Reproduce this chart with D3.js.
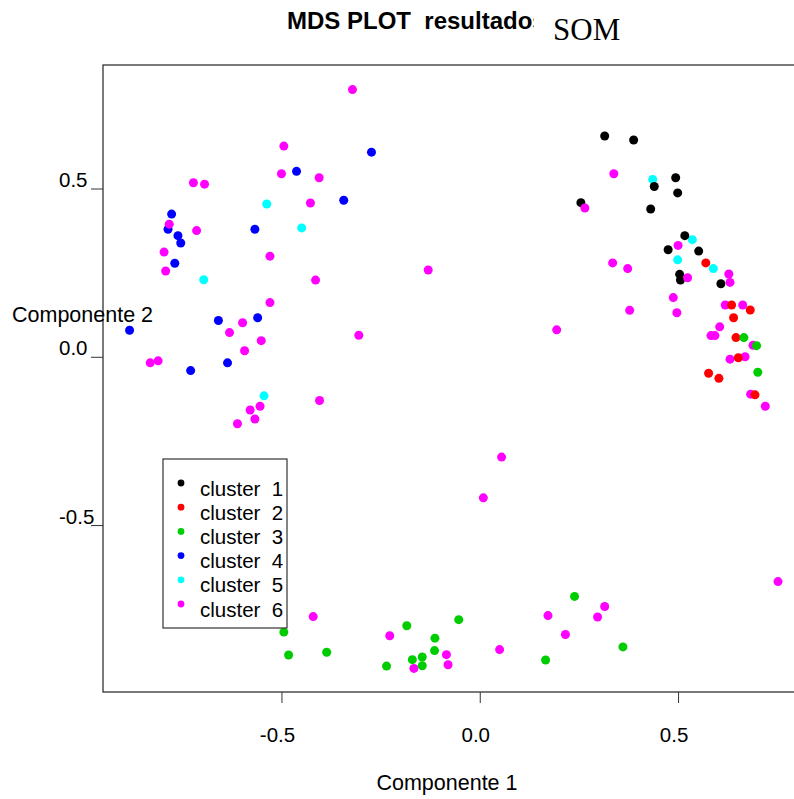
<!DOCTYPE html>
<html>
<head>
<meta charset="utf-8">
<script src="https://cdn.jsdelivr.net/npm/d3@7"></script>
<style>
  body { margin: 0; background: #fff; }
  svg { display: block; font-family: "Liberation Sans", Arial, sans-serif; }
  svg text { white-space: pre; }
</style>
</head>
<body>
<svg></svg>
<script>
// MDS coordinates per cluster
const cluster1 = [[0.315,0.656],[0.388,0.644],[0.494,0.532],[0.440,0.506],[0.499,0.487],[0.255,0.458],
  [0.431,0.439],[0.517,0.360],[0.475,0.318],[0.552,0.314],[0.504,0.245],[0.506,0.228],[0.608,0.217]];
const cluster2 = [[0.570,0.279],[0.635,0.154],[0.682,0.139],[0.640,0.116],[0.646,0.057],[0.652,-0.003],
  [0.577,-0.049],[0.603,-0.064],[0.694,-0.113]];
const cluster3 = [[0.666,0.057],[0.698,0.033],[0.701,-0.046],[-0.494,-0.818],[-0.482,-0.886],[-0.386,-0.878],
  [-0.184,-0.799],[-0.113,-0.836],[-0.114,-0.873],[-0.145,-0.892],[-0.170,-0.900],[-0.235,-0.919],
  [-0.145,-0.918],[0.239,-0.712],[-0.053,-0.781],[0.361,-0.862],[0.166,-0.901]];
const cluster4 = [[-0.273,0.608],[-0.462,0.551],[-0.343,0.465],[-0.777,0.424],[-0.786,0.379],[-0.567,0.379],
  [-0.761,0.360],[-0.754,0.338],[-0.769,0.278],[-0.659,0.108],[-0.560,0.116],[-0.883,0.079],
  [-0.636,-0.018],[-0.729,-0.041]];
const cluster5 = [[-0.537,0.454],[-0.449,0.383],[-0.696,0.229],[-0.544,-0.116],[0.436,0.527],[0.536,0.348],
  [0.499,0.288],[0.589,0.262]];
const cluster6 = [[-0.321,0.794],[-0.494,0.626],[-0.500,0.544],[-0.405,0.532],[-0.722,0.517],[-0.694,0.513],
  [-0.427,0.457],[-0.783,0.394],[-0.714,0.375],[-0.796,0.311],[-0.529,0.299],[-0.792,0.255],
  [-0.414,0.228],[-0.529,0.161],[-0.598,0.101],[-0.631,0.072],[-0.551,0.048],[-0.305,0.064],
  [-0.593,0.018],[-0.831,-0.018],[-0.811,-0.012],[-0.404,-0.130],[-0.554,-0.147],[-0.579,-0.158],
  [-0.567,-0.185],[-0.611,-0.199],
  [0.338,0.544],[0.265,0.442],[0.500,0.331],[0.335,0.279],[0.373,0.262],[-0.130,0.258],[0.524,0.235],
  [0.628,0.246],[0.631,0.221],[0.488,0.176],[0.619,0.154],[0.663,0.154],[0.378,0.138],[0.497,0.131],
  [0.605,0.089],[0.194,0.080],[0.583,0.063],[0.593,0.063],[0.689,0.034],[0.631,-0.007],[0.669,0.000],
  [0.683,-0.111],[0.720,-0.147],[0.055,-0.298],
  [-0.420,-0.772],[-0.227,-0.829],[-0.166,-0.926],[-0.084,-0.885],[-0.080,-0.915],[0.009,-0.419],
  [0.752,-0.668],[0.315,-0.742],[0.172,-0.769],[0.297,-0.773],[0.216,-0.825],[0.050,-0.870]];

const clusterNames = ['cluster  1', 'cluster  2', 'cluster  3', 'cluster  4', 'cluster  5', 'cluster  6'];
const clusterColors = ['#000000', '#ff0000', '#00cd00', '#0000ff', '#00ffff', '#ff00ff'];
const tickValues = [-0.5, 0, 0.5];

const size = {w: 794, h: 799};
const plot = {l: 103, t: 65, r: 801, b: 692};
const svg = d3.select('svg').attr('width', size.w).attr('height', size.h);

const x = d3.scaleLinear().domain([-0.95, 0.81]).range([plot.l, plot.r]);
const y = d3.scaleLinear().domain([-0.996, 0.867]).range([plot.b, plot.t]);

// title: the last letter is half hidden under "SOM"
svg.append('clipPath').attr('id', 'titleClip')
  .append('rect').attr('x', 0).attr('y', 0).attr('width', 534).attr('height', 60);
svg.append('text')
  .attr('x', 287).attr('y', 29)
  .attr('clip-path', 'url(#titleClip)')
  .style('font-weight', 'bold').style('font-size', '24px')
  .text('MDS PLOT  resultados');
svg.append('text')
  .attr('x', 553).attr('y', 40)
  .style('font-family', '"Liberation Serif", "Times New Roman", serif')
  .style('font-size', '31px')
  .text('SOM');

// points, drawn cluster by cluster
const allClusters = [cluster1, cluster2, cluster3, cluster4, cluster5, cluster6];
const drawOrder = [4, 3, 0, 5, 1, 2];
const pointsG = svg.append('g').classed('points', true);
drawOrder.forEach(i => {
  pointsG.append('g')
    .selectAll('circle')
    .data(allClusters[i])
    .join('circle')
    .attr('cx', d => x(d[0]))
    .attr('cy', d => y(d[1]))
    .attr('r', 4.5)
    .style('fill', clusterColors[i]);
});

// frame
svg.append('rect')
  .attr('x', plot.l).attr('y', plot.t)
  .attr('width', plot.r - plot.l).attr('height', plot.b - plot.t)
  .style('fill', 'none').style('stroke', '#222').style('stroke-width', 1.2);

// x axis
const xAxisG = svg.append('g')
  .attr('transform', `translate(0,${plot.b})`)
  .call(d3.axisBottom(x).tickValues(tickValues).tickSize(11).tickFormat(d => d.toFixed(1)));
xAxisG.select('.domain').remove();
xAxisG.selectAll('line').style('stroke', '#333');
xAxisG.selectAll('text')
  .attr('y', 50).attr('dy', null).attr('dx', -4.5)
  .style('font-size', '20.5px').style('font-family', '"Liberation Sans", Arial, sans-serif')
  .style('fill', '#000');

// y axis
const yAxisG = svg.append('g')
  .attr('transform', `translate(${plot.l},0)`)
  .call(d3.axisLeft(y).tickValues(tickValues).tickSize(12).tickFormat(d => d.toFixed(1)));
yAxisG.select('.domain').remove();
yAxisG.selectAll('line').style('stroke', '#333');
yAxisG.selectAll('text')
  .attr('x', 59 - plot.l).attr('dy', -2)
  .attr('text-anchor', 'start')
  .style('dominant-baseline', 'auto')
  .style('font-size', '20.5px').style('font-family', '"Liberation Sans", Arial, sans-serif')
  .style('fill', '#000');

// axis titles
svg.append('text')
  .attr('x', 447).attr('y', 790)
  .attr('text-anchor', 'middle')
  .style('font-size', '21.5px')
  .text('Componente 1');
svg.append('text')
  .attr('x', 12).attr('y', 322)
  .style('font-size', '21.5px')
  .text('Componente 2');

// legend
const legend = {l: 163, t: 459, w: 124, h: 169, row: 24.2};
const legendG = svg.append('g').classed('legend', true);
legendG.append('rect')
  .attr('x', legend.l).attr('y', legend.t)
  .attr('width', legend.w).attr('height', legend.h)
  .style('fill', '#fff').style('stroke', '#333').style('stroke-width', 1.2);
const rows = legendG.selectAll('g.row')
  .data(clusterNames)
  .join('g').classed('row', true)
  .attr('transform', (d, i) => `translate(${legend.l + 18},${legend.t + 24 + i * legend.row})`);
rows.append('circle')
  .attr('r', 3.4)
  .style('fill', (d, i) => clusterColors[i]);
rows.append('text')
  .attr('x', 19).attr('y', 12.5)
  .style('font-size', '20.5px')
  .text(d => d);
</script>
</body>
</html>
